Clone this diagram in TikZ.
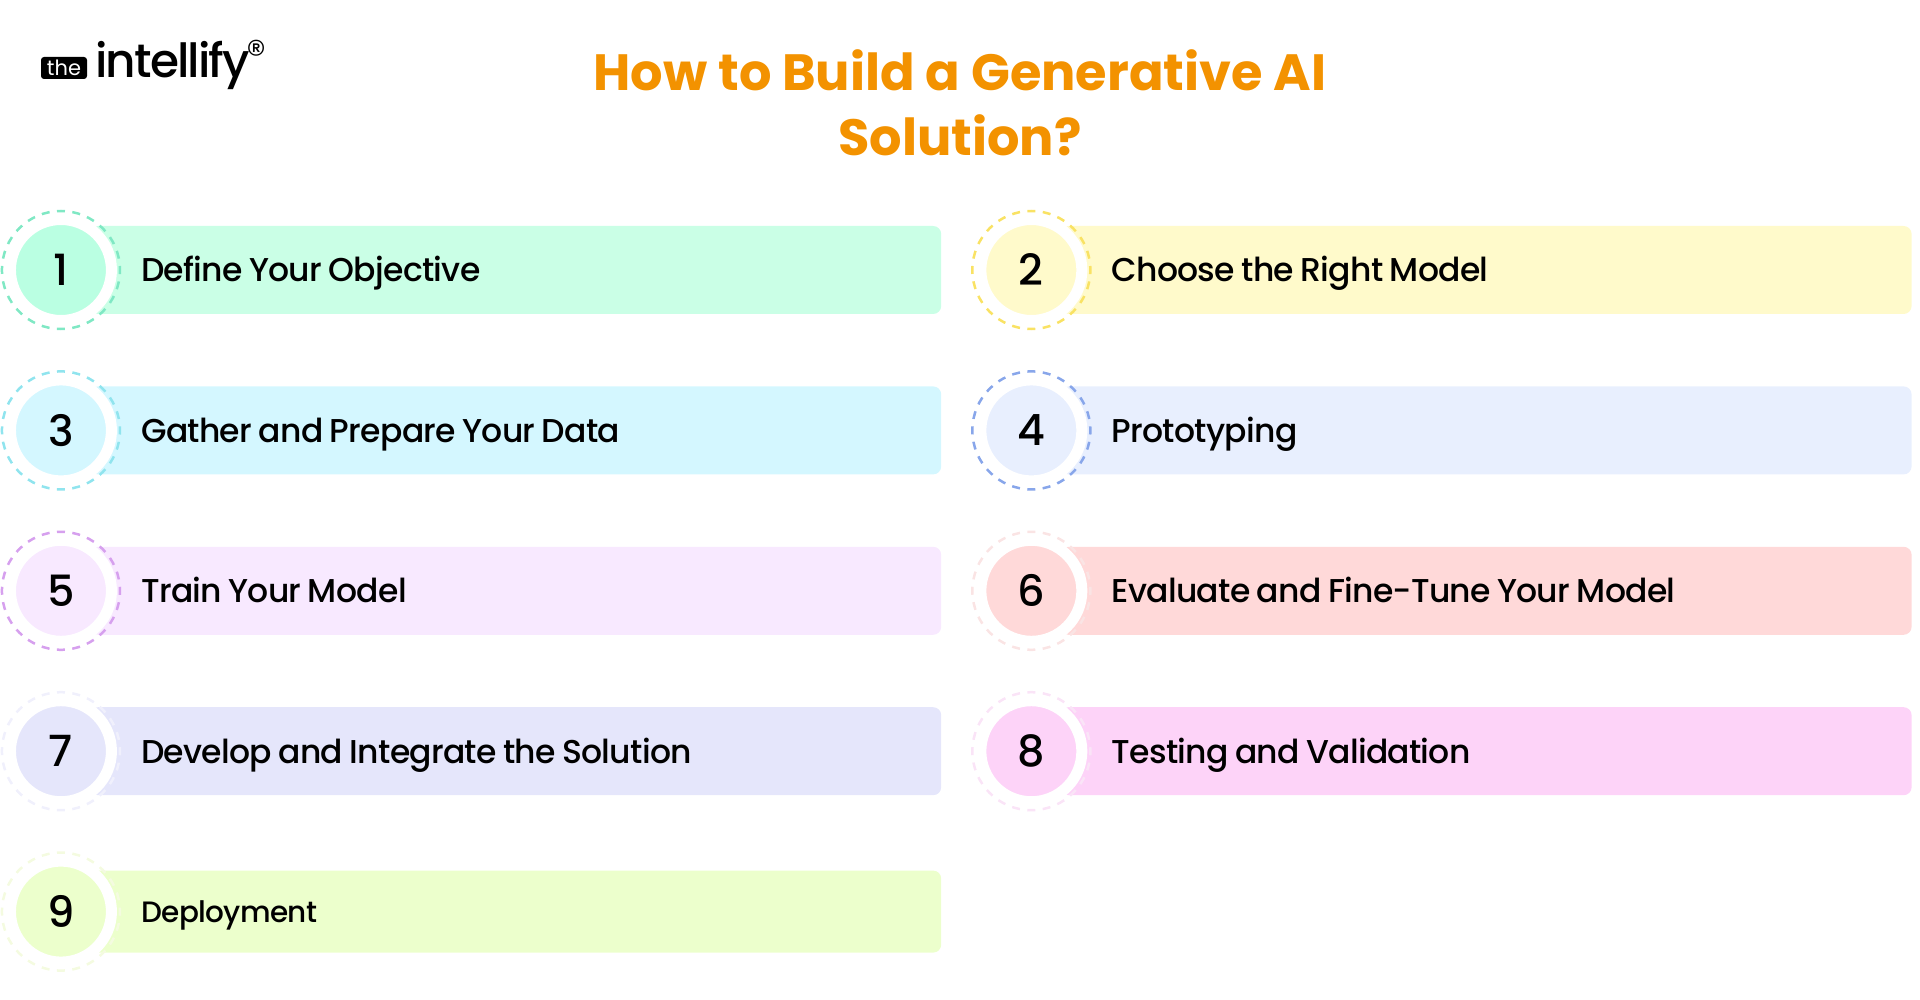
\documentclass[tikz,border=0pt]{standalone}
\usepackage{fontspec}
\setmainfont{Poppins Medium}[LetterSpace=-2.2]
\newfontfamily\headfont{Poppins}[UprightFont=*-Bold]
\newfontfamily\logofont{Poppins Medium}[LetterSpace=-4]
\newfontfamily\logosmall{Poppins}
\newfontfamily\logomarkfont{Poppins Light}
\usepackage{xcolor}
\definecolor{cOrange}{HTML}{f39200}
\definecolor{cMint}{HTML}{caffe6}
\definecolor{cMintDisc}{HTML}{baffe2}
\definecolor{cMintRing}{HTML}{80e8c4}
\definecolor{cLemon}{HTML}{fffacb}
\definecolor{cLemonRing}{HTML}{f9e264}
\definecolor{cSky}{HTML}{d4f7ff}
\definecolor{cSkyRing}{HTML}{90e4ee}
\definecolor{cPeri}{HTML}{e8effe}
\definecolor{cPeriRing}{HTML}{88a6ea}
\definecolor{cLilac}{HTML}{f8e9ff}
\definecolor{cLilacRing}{HTML}{d6a0ee}
\definecolor{cRose}{HTML}{ffd9d9}
\definecolor{cRoseRing}{HTML}{fae4e4}
\definecolor{cLavender}{HTML}{e5e6fb}
\definecolor{cLavenderRing}{HTML}{f0f0fc}
\definecolor{cPink}{HTML}{fdd3f8}
\definecolor{cPinkRing}{HTML}{fae4f7}
\definecolor{cLime}{HTML}{ecffcc}
\definecolor{cLimeRing}{HTML}{f4fbe0}
\usepackage{tikz}
\usetikzlibrary{positioning}
\tikzset{
	stepbar/.style={
		fill=#1,
		rounded corners=8pt,
		anchor=west,
		minimum height=88pt,
		inner xsep=51pt,
		inner ysep=0pt,
		text width=749pt,
		align=left,
		text height=24pt,
		text depth=0pt,
		execute at begin node={\spaceskip 6.5pt\relax},
		font=\fontsize{33}{40}\selectfont
	},
	stepring/.style={
		circle,
		draw=#1,
		line width=2.5pt,
		dash pattern=on 8pt off 7.44pt,
		dash phase=4pt,
		minimum size=118pt,
		inner sep=0pt
	},
	stepdisc/.style={
		circle,
		fill=#1,
		draw=white,
		line width=11pt,
		minimum size=101pt,
		inner sep=0pt,
		font=\fontsize{43}{43}\selectfont
	}
}

\begin{document}
\begin{tikzpicture}[x=1pt,y=-1pt]
	\useasboundingbox (0,0) rectangle (1920,1000);

	\node (logobox) [fill=black, rounded corners=3pt, minimum width=46pt, minimum height=22pt, inner sep=0pt, text=white, font=\logosmall\fontsize{21}{21}\selectfont] at (64,68) {the};
	\node (logoword) [right=8pt of logobox, yshift=3pt, inner sep=0pt, font=\logofont\fontsize{47}{47}\selectfont] {intellify};
	\node (logomark) [inner sep=0pt, font=\logomarkfont\fontsize{40}{40}\selectfont] at (257,54) {\textregistered};
	\node (title) [align=center, text=cOrange, font=\headfont\fontsize{51}{65}\selectfont] at (960,102.5) {How to Build a Generative AI\\Solution?};

	\node (b1) [stepbar=cMint] at (90,270) {Define Your Objective};
	\node (b3) [stepbar=cSky, below=72pt of b1] {Gather and Prepare Your Data};
	\node (b5) [stepbar=cLilac, below=72pt of b3] {Train Your Model};
	\node (b7) [stepbar=cLavender, below=72pt of b5] {Develop and Integrate the Solution};
	\node (b9) [stepbar=cLime, below=75pt of b7, minimum height=82pt, text height=21pt, font=\fontsize{29.5}{40}\selectfont] {Deployment};
	\node (b2) [stepbar=cLemon, right=119pt of b1] {Choose the Right Model};
	\node (b4) [stepbar=cPeri, below=72pt of b2] {Prototyping};
	\node (b6) [stepbar=cRose, below=72pt of b4] {Evaluate and Fine-Tune Your Model};
	\node (b8) [stepbar=cPink, below=72pt of b6] {Testing and Validation};

	\node (r1) [stepring=cMintRing, left=-31.2pt of b1.west] {};
	\node (r2) [stepring=cLemonRing, left=-31.2pt of b2.west] {};
	\node (r3) [stepring=cSkyRing, left=-31.2pt of b3.west] {};
	\node (r4) [stepring=cPeriRing, left=-31.2pt of b4.west] {};
	\node (r5) [stepring=cLilacRing, left=-31.2pt of b5.west] {};
	\node (r6) [stepring=cRoseRing, left=-31.2pt of b6.west] {};
	\node (r7) [stepring=cLavenderRing, left=-31.2pt of b7.west] {};
	\node (r8) [stepring=cPinkRing, left=-31.2pt of b8.west] {};
	\node (r9) [stepring=cLimeRing, left=-31.2pt of b9.west] {};

	\node (c1) [stepdisc=cMintDisc] at (r1) {1};
	\node (c2) [stepdisc=cLemon] at (r2) {2};
	\node (c3) [stepdisc=cSky] at (r3) {3};
	\node (c4) [stepdisc=cPeri] at (r4) {4};
	\node (c5) [stepdisc=cLilac] at (r5) {5};
	\node (c6) [stepdisc=cRose] at (r6) {6};
	\node (c7) [stepdisc=cLavender] at (r7) {7};
	\node (c8) [stepdisc=cPink] at (r8) {8};
	\node (c9) [stepdisc=cLime] at (r9) {9};
\end{tikzpicture}
\end{document}
